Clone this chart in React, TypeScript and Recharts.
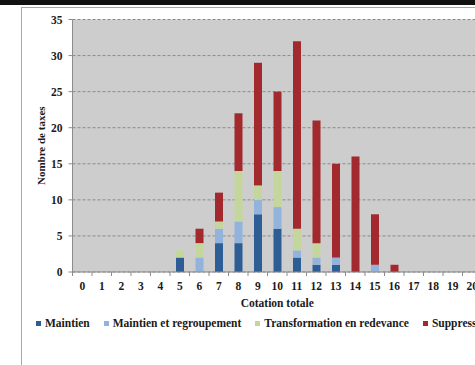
import { BarChart, Bar, XAxis, YAxis, CartesianGrid, Legend, Label } from 'recharts';

const cotations = [0, 1, 2, 3, 4, 5, 6, 7, 8, 9, 10, 11, 12, 13, 14, 15, 16, 17, 18, 19, 20];
const maintien = [0, 0, 0, 0, 0, 2, 0, 4, 4, 8, 6, 2, 1, 1, 0, 0, 0, 0, 0, 0, 0];
const regroupement = [0, 0, 0, 0, 0, 0, 2, 2, 3, 2, 3, 1, 1, 1, 0, 1, 0, 0, 0, 0, 0];
const redevance = [0, 0, 0, 0, 0, 1, 2, 1, 7, 2, 5, 3, 2, 0, 0, 0, 0, 0, 0, 0, 0];
const suppression = [0, 0, 0, 0, 0, 0, 2, 4, 8, 17, 11, 26, 17, 13, 16, 7, 1, 0, 0, 0, 0];
const yTicks = [0, 5, 10, 15, 20, 25, 30, 35];

const series = [
  { key: 'maintien', name: 'Maintien', color: '#2d5d95' },
  { key: 'regroupement', name: 'Maintien et regroupement', color: '#92b3db' },
  { key: 'redevance', name: 'Transformation en redevance', color: '#c4d69c' },
  { key: 'suppression', name: 'Suppression', color: '#a2292d' },
];

const data = cotations.map((c, i) => ({
  cotation: String(c),
  maintien: maintien[i],
  regroupement: regroupement[i],
  redevance: redevance[i],
  suppression: suppression[i],
}));

const FONT = '"Liberation Serif", "Times New Roman", serif';
const TEXT = '#1a1a1a';
const AXIS = '#8c8c8c';

// Excel-style category tick: label centred, tick marks on the band edges
function XTick(props: any) {
  const { x, y, payload, index, visibleTicksCount } = props;
  const half = payload && payload.offset ? payload.offset : 9.7;
  const last = index === visibleTicksCount - 1;
  return (
    <g>
      <line x1={x - half} x2={x - half} y1={y - 9} y2={y - 5} stroke={AXIS} />
      {last && <line x1={x + half} x2={x + half} y1={y - 9} y2={y - 5} stroke={AXIS} />}
      <text x={x} y={y} dy={9} textAnchor="middle" fontFamily={FONT} fontWeight="bold" fontSize={11.5} fill={TEXT}>
        {payload.value}
      </text>
    </g>
  );
}

function LegendContent() {
  return (
    <div style={{ display: 'flex', alignItems: 'center', height: 20, paddingLeft: 36, whiteSpace: 'nowrap', fontFamily: FONT, fontWeight: 'bold', fontSize: 11.5, color: TEXT }}>
      {series.map((s) => (
        <span key={s.key} style={{ display: 'inline-flex', alignItems: 'center', marginRight: 14 }}>
          <span style={{ display: 'inline-block', width: 5, height: 5, background: s.color, marginRight: 4 }} />
          {s.name}
        </span>
      ))}
    </div>
  );
}

export default function App() {
  return (
    <div style={{ position: 'absolute', left: 0, top: 0, width: 475, height: 365, overflow: 'hidden', background: '#fff' }}>
      <div style={{ position: 'absolute', left: 0, top: 0 }}>
        <BarChart
          width={522}
          height={365}
          data={data}
          margin={{ top: 19.5, right: 40, left: 0, bottom: 32 }}
          barSize={8}
        >
          <CartesianGrid vertical={false} fill="#cdcdcd" stroke="#8a8a8a" strokeDasharray="3 2" />
          <XAxis
            dataKey="cotation"
            height={41}
            interval={0}
            tickSize={4}
            tickMargin={5}
            tickLine={false}
            axisLine={{ stroke: AXIS }}
            tick={<XTick />}
          >
            <Label value="Cotation totale" position="insideTop" offset={27} fontFamily={FONT} fontWeight="bold" fontSize={11.5} fill={TEXT} />
          </XAxis>
          <YAxis
            width={72.5}
            domain={[0, 35]}
            ticks={yTicks}
            interval={0}
            tickSize={4}
            tickMargin={6}
            axisLine={{ stroke: AXIS }}
            tickLine={{ stroke: AXIS }}
            tick={{ fontFamily: FONT, fontWeight: 'bold', fontSize: 11.5, fill: TEXT }}
          >
            <Label value="Nombre de taxes" angle={-90} position="center" dx={5} fontFamily={FONT} fontWeight="bold" fontSize={11} fill={TEXT} />
          </YAxis>
          <Legend verticalAlign="bottom" align="left" content={<LegendContent />} wrapperStyle={{ left: 0, width: 522 }} />
          {series.map((s) => (
            <Bar key={s.key} dataKey={s.key} name={s.name} stackId="a" fill={s.color} isAnimationActive={false} />
          ))}
        </BarChart>
      </div>
      {/* page edge and chart frame */}
      <div style={{ position: 'absolute', left: 0, top: 0, width: 475, height: 5, background: '#111', pointerEvents: 'none' }} />
      <div style={{ position: 'absolute', left: 21, top: 7, width: 480, height: 400, borderLeft: '1px solid #a8a8a8', borderTop: '1px solid #a8a8a8', pointerEvents: 'none' }} />
    </div>
  );
}
